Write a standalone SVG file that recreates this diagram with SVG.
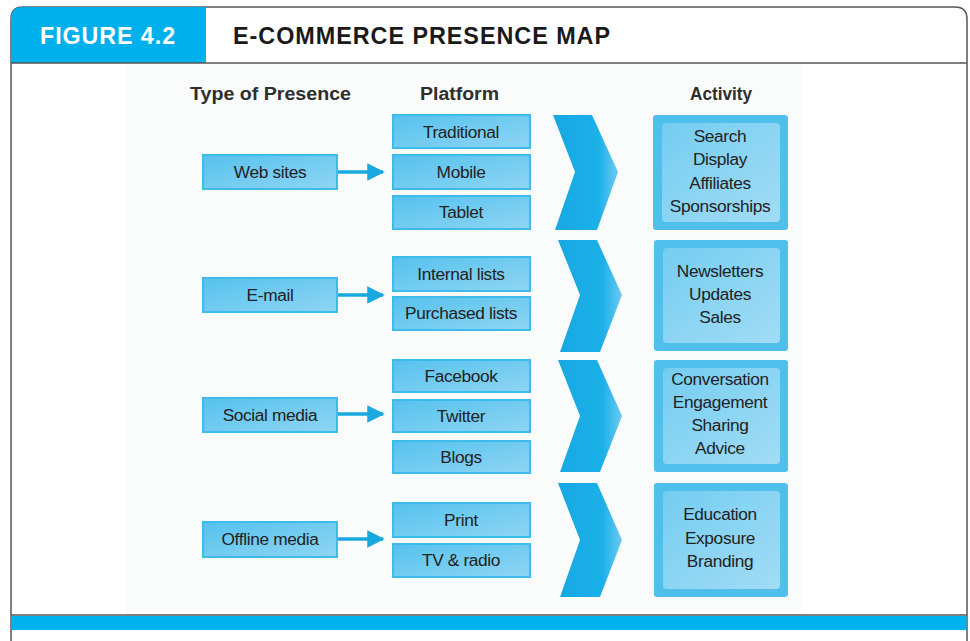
<svg xmlns="http://www.w3.org/2000/svg" width="970" height="641" viewBox="0 0 970 641">
<defs>
<style>
.hdr{font-family:"Liberation Sans",Arial,sans-serif;font-weight:bold;font-size:24px;letter-spacing:1px}
.col{font-family:"Liberation Sans",Arial,sans-serif;font-weight:bold;font-size:17.5px;fill:#2e2e2e}
.lbl{font-family:"Liberation Sans",Arial,sans-serif;font-size:17.3px;fill:#222;text-anchor:middle;letter-spacing:-0.35px}
.box{fill:url(#boxg);stroke:#3dbbeb;stroke-width:2}
.act{fill:#4fc0ec}
.actin{fill:url(#actg)}
.chev{fill:url(#chevg)}
.conn{stroke:#1aa8e0;stroke-width:3.5;fill:none}
</style>
<linearGradient id="boxg" x1="0" y1="0" x2="1" y2="1">
<stop offset="0" stop-color="#55c2ee"/>
<stop offset="1" stop-color="#8fd5f3"/>
</linearGradient>
<linearGradient id="actg" x1="0" y1="0" x2="1" y2="1">
<stop offset="0" stop-color="#74cdf1"/>
<stop offset="1" stop-color="#a2dcf5"/>
</linearGradient>
<linearGradient id="chevg" x1="0" y1="0" x2="1" y2="0">
<stop offset="0" stop-color="#16a8e2"/>
<stop offset="0.7" stop-color="#1cb0e9"/>
<stop offset="1" stop-color="#6ccbf1"/>
</linearGradient>
<marker id="ah" viewBox="0 0 10 10" refX="9" refY="5" markerWidth="6" markerHeight="5" markerUnits="strokeWidth" orient="auto">
<path d="M0,0 L10,5 L0,10 Z" fill="#1aa8e0"/>
</marker>
</defs>
<rect width="970" height="641" fill="#ffffff"/>
<!-- frame -->
<g id="frame">
<rect x="125" y="64" width="676" height="551" fill="#fafbfb"/>
<path d="M11,641 L11,19 Q11,7 23,7 L955,7 Q967,7 967,19 L967,641" fill="none" stroke="#555" stroke-width="1.5"/>
<path d="M11,63 L11,19 Q11,7 23,7 L206,7 L206,63 Z" fill="#00b0ec"/>
<line x1="11" y1="63" x2="967" y2="63" stroke="#555" stroke-width="1.5"/>
<line x1="11" y1="615" x2="967" y2="615" stroke="#555" stroke-width="1.5"/>
<rect x="11.5" y="616" width="955" height="14" fill="#00b2ee"/>
<text class="hdr" x="40" y="44" fill="#ffffff" textLength="136" lengthAdjust="spacingAndGlyphs">FIGURE 4.2</text>
<text class="hdr" x="233" y="44" fill="#1a1a1a" textLength="378" lengthAdjust="spacingAndGlyphs">E-COMMERCE PRESENCE MAP</text>
</g>
<!-- column headers -->
<g id="headers">
<text class="col" x="190" y="100" textLength="161" lengthAdjust="spacingAndGlyphs">Type of Presence</text>
<text class="col" x="420" y="100" textLength="79" lengthAdjust="spacingAndGlyphs">Platform</text>
<text class="col" x="690" y="100" textLength="62" lengthAdjust="spacingAndGlyphs">Activity</text>
</g>
<!-- connectors -->
<g id="connectors">
<line class="conn" x1="337" y1="172" x2="383" y2="172" marker-end="url(#ah)"/>
<line class="conn" x1="337" y1="295" x2="383" y2="295" marker-end="url(#ah)"/>
<line class="conn" x1="337" y1="414" x2="383" y2="414" marker-end="url(#ah)"/>
<line class="conn" x1="337" y1="539" x2="383" y2="539" marker-end="url(#ah)"/>
</g>
<!-- Section 1 -->
<g id="type-websites"><rect class="box" x="203" y="155" width="134" height="34"/><text class="lbl" x="270" y="178">Web sites</text></g>
<g id="plat-traditional"><rect class="box" x="393" y="115" width="137" height="33"/><text class="lbl" x="461" y="138">Traditional</text></g>
<g id="plat-mobile"><rect class="box" x="393" y="155" width="137" height="34"/><text class="lbl" x="461" y="178">Mobile</text></g>
<g id="plat-tablet"><rect class="box" x="393" y="196" width="137" height="33"/><text class="lbl" x="461" y="218">Tablet</text></g>
<g id="chevron-1"><path class="chev" d="M553,115 L592,115 L618,172 L597,230 L555,230 L575,172 Z"/></g>
<g id="act-1"><rect class="act" x="653" y="115" width="135" height="115" rx="3"/><rect class="actin" x="662" y="123" width="118" height="99" rx="4"/>
<text class="lbl" x="720" y="142">Search</text><text class="lbl" x="720" y="165">Display</text><text class="lbl" x="720" y="189">Affiliates</text><text class="lbl" x="720" y="212">Sponsorships</text></g>
<!-- Section 2 -->
<g id="type-email"><rect class="box" x="203" y="278" width="134" height="34"/><text class="lbl" x="270" y="301">E-mail</text></g>
<g id="plat-internal"><rect class="box" x="393" y="257" width="137" height="34"/><text class="lbl" x="461" y="280">Internal lists</text></g>
<g id="plat-purchased"><rect class="box" x="393" y="297" width="137" height="33"/><text class="lbl" x="461" y="319">Purchased lists</text></g>
<g id="chevron-2"><path class="chev" d="M558,240 L597,240 L622,295 L600,352 L560,352 L580,295 Z"/></g>
<g id="act-2"><rect class="act" x="654" y="240" width="134" height="111" rx="3"/><rect class="actin" x="663" y="248" width="117" height="95" rx="4"/>
<text class="lbl" x="720" y="277">Newsletters</text><text class="lbl" x="720" y="300">Updates</text><text class="lbl" x="720" y="323">Sales</text></g>
<!-- Section 3 -->
<g id="type-social"><rect class="box" x="203" y="398" width="134" height="34"/><text class="lbl" x="270" y="421">Social media</text></g>
<g id="plat-facebook"><rect class="box" x="393" y="360" width="137" height="32"/><text class="lbl" x="461" y="382">Facebook</text></g>
<g id="plat-twitter"><rect class="box" x="393" y="400" width="137" height="32"/><text class="lbl" x="461" y="422">Twitter</text></g>
<g id="plat-blogs"><rect class="box" x="393" y="441" width="137" height="32"/><text class="lbl" x="461" y="463">Blogs</text></g>
<g id="chevron-3"><path class="chev" d="M558,360 L597,360 L622,416 L600,472 L560,472 L580,416 Z"/></g>
<g id="act-3"><rect class="act" x="654" y="360" width="134" height="112" rx="3"/><rect class="actin" x="663" y="368" width="117" height="96" rx="4"/>
<text class="lbl" x="720" y="385">Conversation</text><text class="lbl" x="720" y="408">Engagement</text><text class="lbl" x="720" y="431">Sharing</text><text class="lbl" x="720" y="454">Advice</text></g>
<!-- Section 4 -->
<g id="type-offline"><rect class="box" x="203" y="522" width="134" height="35"/><text class="lbl" x="270" y="545">Offline media</text></g>
<g id="plat-print"><rect class="box" x="393" y="503" width="137" height="34"/><text class="lbl" x="461" y="526">Print</text></g>
<g id="plat-tv"><rect class="box" x="393" y="544" width="137" height="33"/><text class="lbl" x="461" y="566">TV &amp; radio</text></g>
<g id="chevron-4"><path class="chev" d="M558,483 L597,483 L622,540 L600,597 L560,597 L580,540 Z"/></g>
<g id="act-4"><rect class="act" x="654" y="483" width="134" height="114" rx="3"/><rect class="actin" x="663" y="491" width="117" height="98" rx="4"/>
<text class="lbl" x="720" y="520">Education</text><text class="lbl" x="720" y="544">Exposure</text><text class="lbl" x="720" y="567">Branding</text></g>
</svg>
